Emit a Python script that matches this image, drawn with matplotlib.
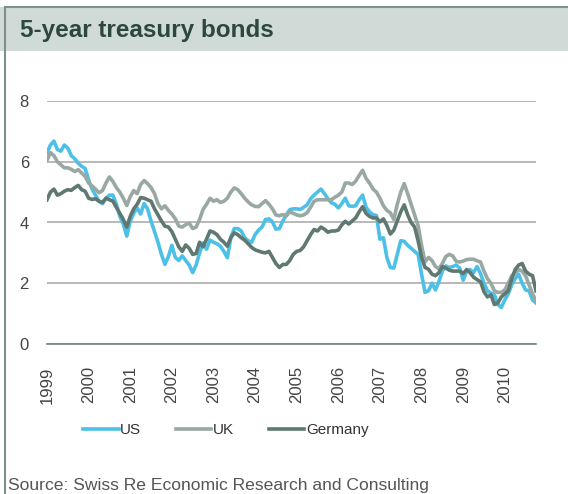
import numpy as np
import matplotlib
matplotlib.use("Agg")
import matplotlib.pyplot as plt
from matplotlib.patches import Rectangle
from matplotlib.lines import Line2D

plt.rcParams['font.family'] = ['Liberation Sans', 'DejaVu Sans']

# monthly yields, Jan 1999 .. Oct 2010
us = [6.30, 6.55, 6.68, 6.40, 6.35, 6.55, 6.45, 6.20, 6.10, 5.95, 5.85, 5.78,
      5.40, 5.10, 4.90, 4.70, 4.62, 4.80, 4.90, 4.90, 4.60, 4.20, 3.95, 3.55,
      4.05, 4.30, 4.48, 4.28, 4.62, 4.45, 4.05, 3.70, 3.35, 2.95, 2.62, 2.88,
      3.25, 2.85, 2.75, 2.90, 2.75, 2.60, 2.35, 2.60, 3.00, 3.33, 3.12, 3.42,
      3.35, 3.30, 3.22, 3.05, 2.84, 3.50, 3.80, 3.80, 3.72, 3.50, 3.40, 3.35,
      3.60, 3.75, 3.85, 4.10, 4.12, 4.02, 3.78, 3.80, 4.05, 4.25, 4.42, 4.45,
      4.45, 4.43, 4.50, 4.58, 4.78, 4.90, 5.00, 5.10, 4.95, 4.78, 4.65, 4.60,
      4.48, 4.62, 4.80, 4.55, 4.53, 4.55, 4.75, 4.90, 4.50, 4.35, 4.26, 4.23,
      3.45, 3.50, 2.85, 2.52, 2.50, 2.95, 3.40, 3.38, 3.25, 3.15, 3.05, 2.95,
      2.30, 1.70, 1.75, 2.00, 1.78, 2.05, 2.40, 2.57, 2.52, 2.55, 2.60, 2.50,
      2.10, 2.40, 2.45, 2.35, 2.55, 2.32, 2.00, 1.75, 1.68, 1.62, 1.30, 1.20,
      1.45, 1.65, 1.95, 2.15, 2.30, 2.00, 1.78, 1.75, 1.45, 1.35]

uk = [6.05, 6.30, 6.20, 6.00, 5.90, 5.80, 5.80, 5.75, 5.68, 5.74, 5.63, 5.52,
      5.30, 5.20, 5.10, 4.98, 5.05, 5.30, 5.50, 5.35, 5.15, 5.00, 4.80, 4.56,
      4.85, 5.05, 4.95, 5.25, 5.38, 5.28, 5.15, 4.95, 4.62, 4.45, 4.55, 4.40,
      4.28, 4.12, 3.88, 3.85, 3.93, 3.98, 3.80, 3.85, 4.10, 4.43, 4.60, 4.80,
      4.70, 4.75, 4.66, 4.70, 4.80, 5.00, 5.14, 5.08, 4.95, 4.80, 4.68, 4.58,
      4.53, 4.52, 4.62, 4.72, 4.60, 4.45, 4.25, 4.22, 4.26, 4.22, 4.35, 4.30,
      4.25, 4.22, 4.25, 4.32, 4.50, 4.70, 4.75, 4.75, 4.75, 4.75, 4.75, 4.83,
      4.90, 5.00, 5.30, 5.30, 5.25, 5.36, 5.55, 5.72, 5.45, 5.30, 5.10, 5.00,
      4.80, 4.55, 4.40, 4.32, 4.10, 4.60, 5.00, 5.28, 4.95, 4.60, 4.25, 3.90,
      3.25, 2.70, 2.85, 2.75, 2.55, 2.48, 2.65, 2.88, 2.95, 2.90, 2.72, 2.70,
      2.73, 2.78, 2.79, 2.79, 2.74, 2.70, 2.40, 2.15, 2.00, 1.75, 1.70, 1.70,
      1.78, 2.00, 2.24, 2.35, 2.45, 2.40, 2.24, 1.95, 1.65, 1.42]

germany = [4.75, 5.00, 5.10, 4.90, 4.95, 5.03, 5.08, 5.06, 5.15, 5.22, 5.08, 5.03,
           4.80, 4.76, 4.78, 4.70, 4.66, 4.80, 4.75, 4.70, 4.50, 4.30, 4.10, 3.85,
           4.20, 4.45, 4.60, 4.82, 4.80, 4.75, 4.70, 4.45, 4.25, 4.05, 3.88, 3.85,
           3.70, 3.45, 3.20, 3.05, 3.26, 3.15, 2.95, 2.98, 3.35, 3.20, 3.45, 3.72,
           3.68, 3.60, 3.45, 3.35, 3.22, 3.50, 3.66, 3.60, 3.50, 3.42, 3.30, 3.18,
           3.10, 3.06, 3.02, 3.00, 3.05, 2.85, 2.65, 2.52, 2.62, 2.62, 2.75, 2.95,
           3.05, 3.08, 3.20, 3.40, 3.60, 3.77, 3.72, 3.85, 3.78, 3.68, 3.72, 3.72,
           3.75, 3.92, 4.04, 3.95, 4.05, 4.15, 4.35, 4.52, 4.30, 4.20, 4.15, 4.15,
           4.02, 4.12, 3.90, 3.62, 3.75, 4.05, 4.35, 4.58, 4.25, 4.00, 3.85, 3.40,
           2.85, 2.52, 2.46, 2.30, 2.25, 2.35, 2.55, 2.50, 2.43, 2.40, 2.40, 2.40,
           2.32, 2.45, 2.35, 2.20, 2.12, 2.05, 1.72, 1.55, 1.62, 1.30, 1.35, 1.55,
           1.65, 1.75, 2.15, 2.45, 2.60, 2.65, 2.40, 2.30, 2.25, 1.75]

years = list(range(1999, 2011))
yticks = [0, 2, 4, 6, 8]

months = np.arange(len(us))

fig = plt.figure(figsize=(5.68, 4.94), dpi=100)

# title band and frame
fig.patches.append(Rectangle((0, 1 - 51/494), 1, 44/494, transform=fig.transFigure,
                             facecolor='#d0dbd7', edgecolor='none', zorder=0))
fig.lines.append(Line2D([5/568, 1], [1 - 7/494, 1 - 7/494], transform=fig.transFigure,
                        color='#7d918a', lw=1.5))
fig.lines.append(Line2D([5/568, 5/568], [0, 1 - 7/494], transform=fig.transFigure,
                        color='#7d918a', lw=1.5))
fig.text(20/568, 1 - 31/494, '5-year treasury bonds', fontsize=17.5, fontweight='bold',
         color='#2d4740', va='center', ha='left')

ax = fig.add_axes([47/568, 1 - 344/494, 489/568, 243/494])
ax.plot(months, us, color='#4cc0e6', lw=2.6, label='US', solid_joinstyle='round')
ax.plot(months, uk, color='#9aa8a3', lw=2.6, label='UK', solid_joinstyle='round')
ax.plot(months, germany, color='#5f7872', lw=2.6, label='Germany', solid_joinstyle='round')

ax.set_xlim(0, len(us) - 1)
ax.set_ylim(0, 8)
ax.set_yticks(yticks)
ax.set_xticks([(y - 1999) * 12 for y in years])
ax.set_xticklabels([str(y) for y in years], rotation=90, va='top')
ax.tick_params(axis='both', length=0, labelsize=12, labelcolor='#444444')
ax.tick_params(axis='y', pad=13)
ax.tick_params(axis='x', pad=16)
ax.yaxis.grid(True, color='#adadad', lw=1.2)
ax.set_axisbelow(True)
for s in ['top', 'right', 'left']:
    ax.spines[s].set_visible(False)
ax.spines['bottom'].set_color('#71837e')
ax.spines['bottom'].set_linewidth(1.2)

handles, labels = ax.get_legend_handles_labels()
fig.legend(handles, labels, loc='center', bbox_to_anchor=(226/568, 1 - 430/494), ncol=3,
           frameon=False, fontsize=11, handlelength=2.3, handletextpad=0.1,
           columnspacing=2.3, labelcolor='#333333')

fig.text(8/568, 1 - 485/494, 'Source: Swiss Re Economic Research and Consulting',
         fontsize=12.6, color='#555555', va='center', ha='left')

fig.savefig('out.png', dpi=100)
